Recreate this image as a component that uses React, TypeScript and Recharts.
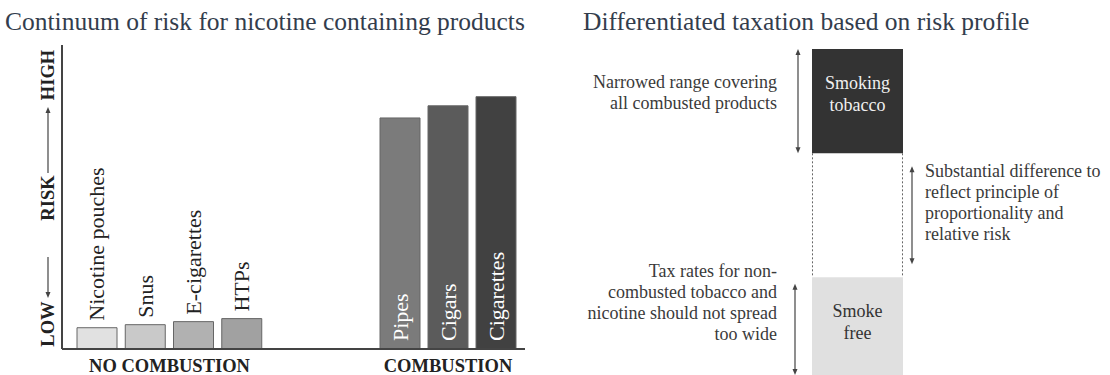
import React from 'react'
import { BarChart, Bar, XAxis, YAxis, Cell, LabelList, ReferenceLine } from 'recharts'

const serif = '"Liberation Serif", "Times New Roman", serif'

// left panel: relative risk per product on a 0-100 scale
const products = ['Nicotine pouches', 'Snus', 'E-cigarettes', 'HTPs', 'Pipes', 'Cigars', 'Cigarettes']
const riskLevels = [7, 8, 9, 10, 76, 80, 83]
const productShades = ['#e1e1e1', '#c9c9c9', '#b1b1b1', '#a1a1a1', '#7b7b7b', '#5b5b5b', '#414141']
const groupNames = ['NO COMBUSTION', 'COMBUSTION']
const groupCounts = [4, 3]

// right panel: tax bands stacked on the same risk scale
const bandKeys = ['smokeFree', 'gap', 'smoking']
const bandNames = ['Smoke free', '', 'Smoking tobacco']
const bandSpans = [30, 38, 32]
const bandShades = ['#e0e0e0', 'none', '#333333']

const noteRanges = [[68, 100], [34, 64], [0, 28]]
const noteLines = [
  ['Narrowed range covering', 'all combusted products'],
  ['Substantial difference to', 'reflect principle of', 'proportionality and', 'relative risk'],
  ['Tax rates for non-', 'combusted tobacco and', 'nicotine should not spread', 'too wide'],
]

const rows = products.map((name, i) => ({ name, risk: riskLevels[i], fill: productShades[i] }))
const panels = [rows.slice(0, groupCounts[0]), rows.slice(groupCounts[0], groupCounts[0] + groupCounts[1])]

const bandRow: Record<string, any> = { cat: 'tax' }
bandKeys.forEach((k, i) => (bandRow[k] = bandSpans[i]))

const ProductLabel = (props: any) => {
  const { x, y, width, height, value } = props
  const cx = Number(x) + Number(width) / 2
  const inside = Number(height) > 100
  const by = inside ? Number(y) + Number(height) - 8 : Number(y) - 7
  return (
    <text x={cx} y={by} transform={`rotate(-90 ${cx} ${by})`} textAnchor="start" dominantBaseline="central"
      fontFamily={serif} fontSize={22} fill={inside ? '#ffffff' : '#222222'}>
      {value}
    </text>
  )
}

const RiskAxisLabel = (props: any) => {
  const vb = props.viewBox || {}
  const cx = vb.x + vb.width - 14
  const top = vb.y
  const bottom = vb.y + vb.height
  const t = (y: number, s: string) => (
    <text x={cx} y={y} transform={`rotate(-90 ${cx} ${y})`} textAnchor="middle" dominantBaseline="central"
      fontFamily={serif} fontSize={18.5} fontWeight="bold" fill="#222">{s}</text>
  )
  return (
    <g>
      {t(bottom - 25, 'LOW')}
      {t(top + 153, 'RISK')}
      {t(top + 30, 'HIGH')}
      <line x1={cx} x2={cx} y1={bottom - 92} y2={bottom - 55} stroke="#444" strokeWidth={1.2} />
      <path d={`M${cx - 2.5},${bottom - 57} L${cx + 2.5},${bottom - 57} L${cx},${bottom - 51} Z`} fill="#444" />
      <line x1={cx} x2={cx} y1={top + 128} y2={top + 66} stroke="#444" strokeWidth={1.2} />
      <path d={`M${cx - 2.5},${top + 68} L${cx + 2.5},${top + 68} L${cx},${top + 62} Z`} fill="#444" />
    </g>
  )
}

const groupLabel = (name: string, padL: number, padR: number) => (props: any) => {
  const vb = props.viewBox || {}
  const cx = vb.x + padL + (vb.width - padL - padR) / 2
  return (
    <text x={cx} y={vb.y + 17} textAnchor="middle" dominantBaseline="central"
      fontFamily={serif} fontSize={18.5} fontWeight="bold" fill="#222">{name}</text>
  )
}

function RiskPanel({ data, group, left, width, yAxisWidth, padL, padR, rightMargin }: any) {
  return (
    <div style={{ position: 'absolute', left, top: 0 }}>
      <BarChart width={width} height={375} data={data} barSize={40}
        margin={{ top: 45, right: rightMargin, bottom: 0, left: 0 }}>
        <XAxis dataKey="name" tick={false} tickLine={false} height={26}
          axisLine={{ stroke: '#444', strokeWidth: 2 }} padding={{ left: padL, right: padR }}
          label={groupLabel(group, padL, padR)} />
        <YAxis domain={[0, 100]} hide={!yAxisWidth} width={yAxisWidth || 0} tick={false} tickLine={false}
          axisLine={{ stroke: '#444', strokeWidth: 2 }} label={yAxisWidth ? RiskAxisLabel : undefined} />
        <Bar dataKey="risk" stroke="#666" strokeWidth={1} isAnimationActive={false}>
          {data.map((d: any) => <Cell key={d.name} fill={d.fill} />)}
          <LabelList dataKey="name" content={ProductLabel} />
        </Bar>
      </BarChart>
    </div>
  )
}

const GapShape = (props: any) => {
  const { x, y, width, height } = props
  return (
    <g>
      <line x1={x + 0.5} x2={x + 0.5} y1={y} y2={y + height} stroke="#666" strokeDasharray="2 2" />
      <line x1={x + width - 0.5} x2={x + width - 0.5} y1={y} y2={y + height} stroke="#666" strokeDasharray="2 2" />
    </g>
  )
}

const BandLabel = (color: string) => (props: any) => {
  const { x, y, width, value } = props
  const words = String(value).split(' ')
  const cx = Number(x) + Number(width) / 2
  return (
    <text textAnchor="middle" fontFamily={serif} fontSize={18} fill={color}>
      {words.map((w, i) => (
        <tspan key={i} x={cx} y={Number(y) + 34 + i * 21.5} dominantBaseline="central">{w}</tspan>
      ))}
    </text>
  )
}

// where each note's arrow and text sit relative to the box
const noteLayout = [
  { dx: -59.5, textDx: -21, anchor: 'end', firstDy: 33 },
  { dx: 54.5, textDx: 13, anchor: 'start', firstDy: 5 },
  { dx: -62.5, textDx: -18, anchor: 'end', firstDy: -13 },
]

const noteShape = (i: number) => (props: any) => {
  const { x1, y1, y2 } = props
  const lay = noteLayout[i]
  const ax = Number(x1) + lay.dx
  const top = Math.min(Number(y1), Number(y2))
  const bottom = Math.max(Number(y1), Number(y2))
  return (
    <g>
      <line x1={ax} x2={ax} y1={top + 5} y2={bottom - 5} stroke="#444" strokeWidth={1.2} />
      <path d={`M${ax - 2.5},${top + 6} L${ax + 2.5},${top + 6} L${ax},${top} Z`} fill="#444" />
      <path d={`M${ax - 2.5},${bottom - 6} L${ax + 2.5},${bottom - 6} L${ax},${bottom} Z`} fill="#444" />
      <text textAnchor={lay.anchor} fontFamily={serif} fontSize={18} fill="#3a3a3a">
        {noteLines[i].map((s, j) => (
          <tspan key={j} x={ax + lay.textDx} y={top + lay.firstDy + j * 21} dominantBaseline="central">{s}</tspan>
        ))}
      </text>
    </g>
  )
}

function TaxPanel() {
  return (
    <div style={{ position: 'absolute', left: 560, top: 0 }}>
      <BarChart width={550} height={375} data={[bandRow]} barCategoryGap={0}
        margin={{ top: 49, right: 207, bottom: 0, left: 252 }}>
        <XAxis dataKey="cat" hide />
        <YAxis domain={[0, 100]} hide />
        {bandKeys.map((k, i) => (
          <Bar key={k} dataKey={k} stackId="tax" fill={bandShades[i]} isAnimationActive={false}
            shape={k === 'gap' ? GapShape : undefined}>
            {bandNames[i] && (
              <LabelList dataKey={() => bandNames[i]} content={BandLabel(i === 2 ? '#f0f0f0' : '#333')} />
            )}
          </Bar>
        ))}
        {noteRanges.map((r, i) => (
          <ReferenceLine key={i} segment={[{ x: 'tax', y: r[0] }, { x: 'tax', y: r[1] }]}
            shape={noteShape(i)} ifOverflow="visible" />
        ))}
      </BarChart>
    </div>
  )
}

export default function App() {
  const titleStyle: React.CSSProperties = {
    position: 'absolute', top: 9, fontFamily: serif, fontSize: 25.5, lineHeight: 1, color: '#333d4d', whiteSpace: 'nowrap',
  }
  return (
    <div style={{ position: 'absolute', left: 0, top: 0, width: 1110, height: 375, background: '#fff', overflow: 'hidden' }}>
      <div style={{ ...titleStyle, left: 5 }}>Continuum of risk for nicotine containing products</div>
      <div style={{ ...titleStyle, left: 583 }}>Differentiated taxation based on risk profile</div>
      <RiskPanel data={panels[0]} group={groupNames[0]} left={0} width={300} yAxisWidth={62}
        padL={11} padR={34} rightMargin={0} />
      <RiskPanel data={panels[1]} group={groupNames[1]} left={300} width={240} yAxisWidth={0}
        padL={76} padR={5} rightMargin={15} />
      <TaxPanel />
    </div>
  )
}
